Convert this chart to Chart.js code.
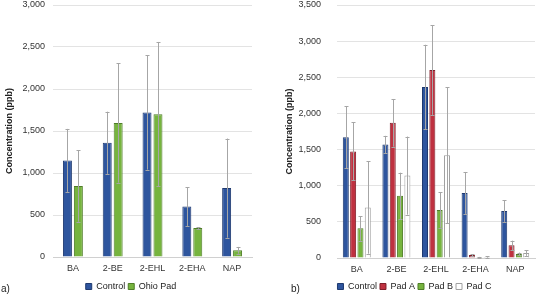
<!DOCTYPE html>
<html>
<head>
<meta charset="utf-8">
<script src="https://cdn.jsdelivr.net/npm/chart.js@4.4.1/dist/chart.umd.min.js"></script>
<style>
  body { margin: 0; background: #fff; font-family: "Liberation Sans", Arial, sans-serif; }
  #wrap { position: relative; width: 539px; height: 296px; overflow: hidden; }
  canvas { position: absolute; top: 0; }
  .tag { position: absolute; font-size: 10px; color: #222; }
</style>
</head>
<body>
<div id="wrap">
  <canvas id="chartA" width="270" height="296" style="left:0"></canvas>
  <canvas id="chartB" width="269" height="296" style="left:270px"></canvas>
  <div class="tag" style="left:1px; top:283px">a)</div>
  <div class="tag" style="left:291px; top:283px">b)</div>
</div>
<script>
// categories
var categories = ["BA", "2-BE", "2-EHL", "2-EHA", "NAP"];

// panel a
var controlA = [1150, 1360, 1720, 600, 820];
var controlAErr = [375, 370, 680, 230, 590];
var ohioPad = [845, 1595, 1700, 345, 80];
var ohioPadErr = [425, 710, 860, 8, 40];
var ticksA = [0, 500, 1000, 1500, 2000, 2500, 3000];

// panel b
var controlB = [1670, 1570, 2365, 900, 650];
var controlBErr = [430, 120, 585, 290, 150];
var padA = [1475, 1870, 2600, 40, 175];
var padAErr = [400, 330, 620, 15, 65];
var padB = [410, 860, 665, 10, 55];
var padBErr = [170, 320, 245, 5, 20];
var padC = [700, 1140, 1420, 15, 70];
var padCErr = [640, 540, 940, 10, 40];
var ticksB = [0, 500, 1000, 1500, 2000, 2500, 3000, 3500];

var BLUE = "#2e559e", BLUE_E = "#1f3a70";
var GREEN = "#76b43e", GREEN_E = "#4f7d28";
var RED = "#bf3140", RED_E = "#7e1f2a";
var WHITE = "#ffffff", WHITE_E = "#a0a0a0";

Chart.defaults.font.family = '"Liberation Sans", Arial, sans-serif';
Chart.defaults.font.size = 9;
Chart.defaults.color = "#333";

// draws the gray error whiskers on top of the bars
var errorBars = {
    id: "errorBars",
    afterDatasetsDraw(chart) {
        var ctx = chart.ctx;
        var y = chart.scales.y;
        ctx.save();
        ctx.strokeStyle = "#a6a6a6";
        ctx.lineWidth = 1;
        chart.data.datasets.forEach((ds, i) => {
            var meta = chart.getDatasetMeta(i);
            meta.data.forEach((bar, j) => {
                var v = ds.data[j], e = ds.err[j];
                var x = Math.round(bar.x) + 0.5;
                var top = y.getPixelForValue(v + e);
                var bot = y.getPixelForValue(Math.max(v - e, 0));
                ctx.beginPath();
                ctx.moveTo(x, top);
                ctx.lineTo(x, bot);
                ctx.moveTo(x - 2, Math.round(top) + 0.5);
                ctx.lineTo(x + 2, Math.round(top) + 0.5);
                ctx.moveTo(x - 2, Math.round(bot) + 0.5);
                ctx.lineTo(x + 2, Math.round(bot) + 0.5);
                ctx.stroke();
            });
        });
        ctx.restore();
    }
};

// fixed legend height and a small sideways nudge
function legendTweak(height, shift) {
    return {
        id: "legendTweak",
        beforeUpdate(chart) {
            var lg = chart.legend;
            if (lg && !lg._patched) {
                var fit = lg.fit;
                lg.fit = function () { fit.call(this); this.height = height; };
                lg._patched = true;
            }
        },
        afterLayout(chart) {
            chart.legend.left += shift;
            chart.legend.right += shift;
        }
    };
}

function makeOptions(max, tickList, yWidth, titlePad, padding, catPct, xHeight) {
    return {
        responsive: false,
        animation: false,
        layout: { padding: padding },
        datasets: { bar: { categoryPercentage: catPct, barPercentage: 0.82, borderWidth: 1 } },
        plugins: {
            legend: {
                position: "bottom",
                labels: { boxWidth: 6, boxHeight: 6, padding: 3, color: "#222" }
            },
            tooltip: { enabled: false }
        },
        scales: {
            x: {
                grid: { display: false, drawTicks: false },
                border: { color: "#d0d0d0" },
                ticks: { color: "#333", padding: 6, maxRotation: 0, minRotation: 0 },
                afterFit: (s) => { s.height = xHeight; }
            },
            y: {
                min: 0,
                max: max,
                afterBuildTicks: (s) => { s.ticks = tickList.map(v => ({ value: v })); },
                afterFit: (s) => { s.width = yWidth; s.paddingTop = 5; s.paddingBottom = 0; },
                grid: { color: "#e3e3e3", drawTicks: false },
                border: { display: false },
                ticks: { color: "#333", padding: titlePad },
                title: {
                    display: true,
                    text: "Concentration (ppb)",
                    font: { weight: "bold", size: 9 },
                    color: "#222",
                    padding: { top: 4, bottom: 0 }
                }
            }
        }
    };
}

new Chart(document.getElementById("chartA"), {
    type: "bar",
    data: {
        labels: categories,
        datasets: [
            { label: "Control", data: controlA, err: controlAErr, backgroundColor: BLUE, borderColor: BLUE_E },
            { label: "Ohio Pad", data: ohioPad, err: ohioPadErr, backgroundColor: GREEN, borderColor: GREEN_E }
        ]
    },
    options: makeOptions(3000, ticksA, 53, 8, { top: 0, right: 18, left: 0, bottom: 2 }, 0.55, 22),
    plugins: [errorBars, legendTweak(15, 5)]
});

new Chart(document.getElementById("chartB"), {
    type: "bar",
    data: {
        labels: categories,
        datasets: [
            { label: "Control", data: controlB, err: controlBErr, backgroundColor: BLUE, borderColor: BLUE_E },
            { label: "Pad A", data: padA, err: padAErr, backgroundColor: RED, borderColor: RED_E },
            { label: "Pad B", data: padB, err: padBErr, backgroundColor: GREEN, borderColor: GREEN_E },
            { label: "Pad C", data: padC, err: padCErr, backgroundColor: WHITE, borderColor: WHITE_E }
        ]
    },
    options: makeOptions(3500, ticksB, 57, 16, { top: 0, right: 4, left: 10, bottom: 2 }, 0.74, 21),
    plugins: [errorBars, legendTweak(15, 7)]
});
</script>
</body>
</html>
